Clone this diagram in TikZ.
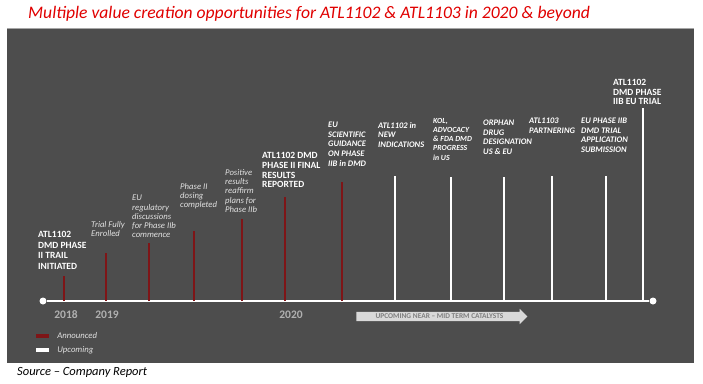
\documentclass[tikz,border=0pt]{standalone}
\usepackage{fontspec}
\setmainfont{Carlito}
\usepackage{xcolor}
\usepackage{tikz}
\usetikzlibrary{arrows.meta, positioning, shapes.arrows}
\definecolor{panelgray}{HTML}{4D4D4D}
\definecolor{annred}{HTML}{7E1517}
\definecolor{titlered}{HTML}{E00000}
\definecolor{yeargray}{HTML}{B0B0B0}
\definecolor{softwhite}{HTML}{E2E2E2}
\definecolor{arrowfill}{HTML}{D9D9D9}
\definecolor{arrowtext}{HTML}{7F7F7F}
\tikzset{
  evtlabel/.style={anchor=north west,align=left,inner sep=0pt,text=softwhite,font=\fontsize{8.7}{9.3}\selectfont\itshape},
  keylabel/.style={evtlabel,text=white,font=\fontsize{9.5}{10.6}\selectfont\bfseries},
  uplabel/.style={evtlabel,text=white,font=\fontsize{8.5}{9.6}\selectfont\bfseries\itshape},
  annbar/.style={annred,line width=2.6pt},
  upbar/.style={white,line width=2.2pt},
  axisline/.style={white,line width=2pt},
  axisend/.style={circle,fill=white,inner sep=0pt,minimum size=7pt},
  yearlabel/.style={inner sep=0pt,text=yeargray,font=\fontsize{11.5}{12}\selectfont\bfseries},
  catarrow/.style={single arrow,fill=arrowfill,inner xsep=2pt,inner ysep=2pt,minimum height=171pt,minimum width=15pt,
    single arrow head extend=3pt,text=arrowtext,font=\fontsize{7.4}{7.6}\selectfont\bfseries},
  legkey/.style={inner sep=0pt,minimum width=13pt,minimum height=4.5pt},
  legtext/.style={inner sep=0pt,text=softwhite,font=\fontsize{8.7}{9}\selectfont\itshape},
}

\begin{document}
\begin{tikzpicture}[x=1pt,y=-1pt]
  \useasboundingbox (0,0) rectangle (703,383);
  \fill[panelgray] (7,28) rectangle (694,363);
  \draw[gray!70,line width=0.8pt] (7,28.4) -- (694,28.4);
  \node[anchor=base west,inner sep=0pt,text=titlered,font=\fontsize{17.6}{19}\selectfont\itshape] (title) at (28,18)
    {Multiple value creation opportunities for ATL1102 \& ATL1103 in 2020 \& beyond};

  % time axis
  \node[axisend] (ax0) at (43,301) {};
  \node[axisend] (ax1) at (653,301) {};
  \draw[axisline] (ax0) -- (ax1);

  % announced
  \coordinate (aInit) at (64,301);      \coordinate (tInit) at (64,276);
  \coordinate (aEnroll) at (106,301);   \coordinate (tEnroll) at (106,253);
  \coordinate (aRegul) at (149,301);    \coordinate (tRegul) at (149,243);
  \coordinate (aDosing) at (194,301);   \coordinate (tDosing) at (194,231);
  \coordinate (aResults) at (242,301);  \coordinate (tResults) at (242,219);
  \coordinate (aFinal) at (285,301);    \coordinate (tFinal) at (285,197);
  \coordinate (aGuide) at (342,301);    \coordinate (tGuide) at (342,182);
  \draw[annbar] (aInit) -- (tInit);
  \draw[annbar] (aEnroll) -- (tEnroll);
  \draw[annbar] (aRegul) -- (tRegul);
  \draw[annbar] (aDosing) -- (tDosing);
  \draw[annbar] (aResults) -- (tResults);
  \draw[annbar] (aFinal) -- (tFinal);
  \draw[annbar] (aGuide) -- (tGuide);

  % upcoming
  \coordinate (aIndic) at (395,301);    \coordinate (tIndic) at (395,176);
  \coordinate (aKol) at (451,301);      \coordinate (tKol) at (451,177);
  \coordinate (aOrphan) at (504,301);   \coordinate (tOrphan) at (504,177);
  \coordinate (aPartner) at (552,301);  \coordinate (tPartner) at (552,176);
  \coordinate (aSubmit) at (606,301);   \coordinate (tSubmit) at (606,176);
  \coordinate (aTrial) at (643,301);    \coordinate (tTrial) at (643,108);
  \draw[upbar] (aIndic) -- (tIndic);
  \draw[upbar] (aKol) -- (tKol);
  \draw[upbar] (aOrphan) -- (tOrphan);
  \draw[upbar] (aPartner) -- (tPartner);
  \draw[upbar] (aSubmit) -- (tSubmit);
  \draw[upbar] (aTrial) -- (tTrial);

  \node[keylabel] (lInit) at (38,231) {ATL1102\\DMD PHASE\\II TRAIL\\INITIATED};
  \node[evtlabel] (lEnroll) at (91,221) {Trial Fully\\Enrolled};
  \node[evtlabel] (lRegul) at (132,195) {EU\\regulatory\\discussions\\for Phase IIb\\commence};
  \node[evtlabel] (lDosing) at (180,183) {Phase II\\dosing\\completed};
  \node[evtlabel] (lResults) at (225,169) {Positive\\results\\reaffirm\\plans for\\Phase IIb};
  \node[keylabel,font=\fontsize{9.5}{9.8}\selectfont\bfseries] (lFinal) at (262,152) {ATL1102 DMD\\PHASE II FINAL\\RESULTS\\REPORTED};
  \node[uplabel] (lGuide) at (328,122) {EU\\SCIENTIFIC\\GUIDANCE\\ON PHASE\\IIB in DMD};
  \node[uplabel] (lIndic) at (378,122) {ATL1102 in\\NEW\\INDICATIONS};
  \node[uplabel,font=\fontsize{7.8}{9.2}\selectfont\bfseries\itshape] (lKol) at (433,118) {KOL,\\ADVOCACY\\\& FDA DMD\\PROGRESS\\in US};
  \node[uplabel] (lOrphan) at (483,120) {ORPHAN\\DRUG\\DESIGNATION\\US \& EU};
  \node[uplabel] (lPartner) at (529,118) {ATL1103\\PARTNERING};
  \node[uplabel] (lSubmit) at (581,118) {EU PHASE IIB\\DMD TRIAL\\APPLICATION\\SUBMISSION};
  \node[keylabel,font=\fontsize{9.5}{9.6}\selectfont\bfseries] (lTrial) at (613,79) {ATL1102\\DMD PHASE\\IIB EU TRIAL};

  \node[yearlabel] (y2018) at (66,315) {2018};
  \node[yearlabel] (y2019) at (107,315) {2019};
  \node[yearlabel] (y2020) at (291,315) {2020};

  \node[catarrow] (cat) at (439.5,316.5) {UPCOMING NEAR -- MID TERM CATALYSTS};

  \node[legkey,fill=annred] (kAnn) at (42.5,336) {};
  \node[legtext,anchor=west,right=8pt of kAnn] (tAnn) {Announced};
  \node[legkey,fill=white] (kUp) at (42.5,350) {};
  \node[legtext,anchor=west,right=8pt of kUp] (tUp) {Upcoming};

  \node[anchor=west,inner sep=0pt,font=\fontsize{12.5}{14}\selectfont\itshape] (src) at (17,372) {Source -- Company Report};
\end{tikzpicture}
\end{document}
